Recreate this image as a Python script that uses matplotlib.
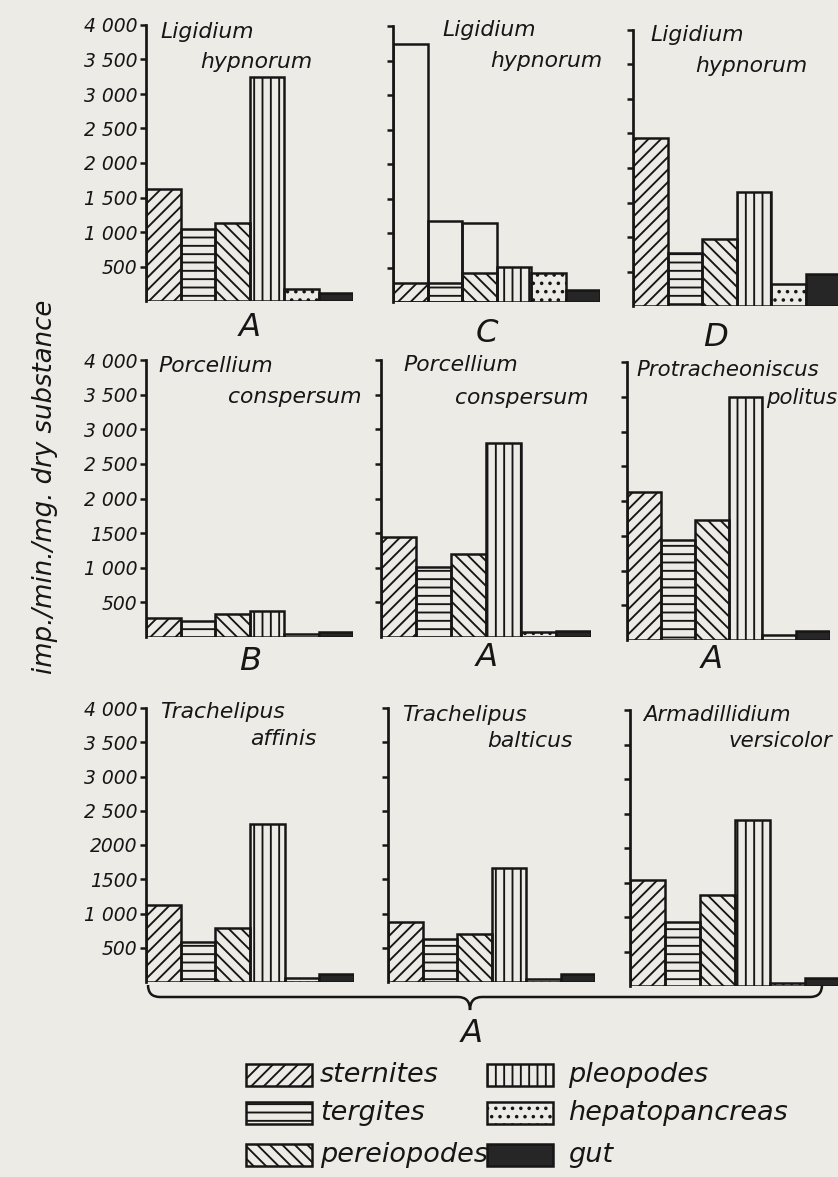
import matplotlib
matplotlib.use('Agg')
import matplotlib.pyplot as plt
from matplotlib.patches import Rectangle, PathPatch
from matplotlib.path import Path
import numpy as np

# ---------------- data ----------------
organs = ['sternites', 'tergites', 'pereiopodes', 'pleopodes', 'hepatopancreas', 'gut']

lig_A = [1620, 1045, 1130, 3240, 175, 120]
lig_C = [275, 270, 415, 505, 415, 180]
lig_C_open = [3740, 1170, 1140, 0, 0, 0]      # open (unhatched) outlines in panel C
lig_D = [2435, 765, 965, 1657, 315, 460]
por_B = [270, 225, 330, 370, 40, 70]
por_A = [1440, 1010, 1200, 2800, 70, 85]
pro_A = [2130, 1440, 1730, 3490, 70, 130]
tra_aff_A = [1130, 585, 785, 2300, 60, 120]
tra_bal_A = [870, 630, 700, 1670, 50, 110]
arm_A = [1530, 925, 1320, 2400, 50, 110]

yticks = [500, 1000, 1500, 2000, 2500, 3000, 3500, 4000]
ylabels_row1 = ['500', '1 000', '1 500', '2 000', '2 500', '3 000', '3 500', '4 000']
ylabels_row2 = ['500', '1 000', '1500', '2 000', '2 500', '3 000', '3 500', '4 000']
ylabels_row3 = ['500', '1 000', '1500', '2000', '2 500', '3 000', '3 500', '4 000']

titles = [('Ligidium', 'hypnorum'), ('Ligidium', 'hypnorum'), ('Ligidium', 'hypnorum'),
          ('Porcellium', 'conspersum'), ('Porcellium', 'conspersum'),
          ('Protracheoniscus', 'politus'),
          ('Trachelipus', 'affinis'), ('Trachelipus', 'balticus'),
          ('Armadillidium', 'versicolor')]
panel_letters = ['A', 'C', 'D', 'B', 'A', 'A']
ylabel_text = 'imp./min./mg. dry substance'

# ---------------- styles ----------------
BG = '#ecebe6'
INK = '#161616'
hatches = ['////', '---', '\\\\\\\\', '|||', '...', None]
faces = ['none', 'none', 'none', 'none', 'none', '#262626']

plt.rcParams['hatch.linewidth'] = 0.9
plt.rcParams['font.family'] = ['DejaVu Sans']

W, H = 838, 1177
DPI = 150
fig = plt.figure(figsize=(W / DPI, H / DPI), dpi=DPI, facecolor=BG)

ov = fig.add_axes([0, 0, 1, 1], zorder=0)
ov.set_xlim(0, W)
ov.set_ylim(H, 0)
ov.axis('off')

# panel geometry in pixels: (x_left, x_right, y_base, y_4000)
geom = [(146, 353, 301, 25), (393, 600, 302, 26), (633, 840, 306, 30),
        (146, 353, 637, 360), (381, 591, 637, 360), (627, 830, 640, 362),
        (146, 354, 982, 708), (388, 595, 982, 708), (630, 840, 986, 710)]
data = [lig_A, lig_C, lig_D, por_B, por_A, pro_A, tra_aff_A, tra_bal_A, arm_A]
row_labels = [ylabels_row1, ylabels_row2, ylabels_row3]

title_pos = [((160, 32), (200, 62)), ((442, 30), (490, 61)), ((650, 35), (695, 66)),
             ((158, 366), (228, 397)), ((403, 365), (455, 398)), ((636, 370), (766, 398)),
             ((160, 712), (250, 739)), ((402, 715), (487, 741)), ((643, 715), (728, 741))]
title_size = [10.5, 10.5, 10.5, 10.5, 10.5, 10.2, 10.5, 10.5, 10.2]

x = np.arange(len(organs))
for i, (vals, (xl, xr, yb, yt)) in enumerate(zip(data, geom)):
    ax = fig.add_axes([xl / W, 1 - yb / H, (xr - xl) / W, (yb - yt) / H], zorder=2)
    ax.set_facecolor('none')
    if i == 1:
        ov_vals = np.array(lig_C_open, dtype=float)
        m = ov_vals > 0
        ax.bar(x[m], ov_vals[m], width=1, align='edge', fill=False,
               edgecolor=INK, linewidth=1.2)
    for j in range(len(organs)):
        ax.bar(x[j], vals[j], width=1, align='edge', facecolor=faces[j],
               hatch=hatches[j], edgecolor=INK, linewidth=1.2)
    ax.set_xlim(0, 6)
    ax.set_ylim(0, 4000)
    for s in ['top', 'right', 'bottom']:
        ax.spines[s].set_visible(False)
    ax.spines['left'].set_linewidth(1.3)
    ax.spines['left'].set_color(INK)
    ax.set_xticks([])
    ax.set_yticks(yticks)
    ax.tick_params(axis='y', direction='out', length=3, width=1.2, color=INK, pad=1)
    if i % 3 == 0:
        ax.set_yticklabels(row_labels[i // 3], fontsize=9, style='italic', color=INK)
    else:
        ax.set_yticklabels([])
    (t1x, t1y), (t2x, t2y) = title_pos[i]
    ov.text(t1x, t1y, titles[i][0], fontsize=title_size[i], style='italic', color=INK,
            ha='left', va='center')
    ov.text(t2x, t2y, titles[i][1], fontsize=title_size[i], style='italic', color=INK,
            ha='left', va='center')

# panel letters
letter_pos = [(250, 328), (487, 334), (716, 338), (250, 662), (487, 658), (712, 660)]
for (lx, ly), s in zip(letter_pos, panel_letters):
    ov.text(lx, ly, s, fontsize=15.5, style='italic', color=INK, ha='center', va='center')

# brace under bottom row
verts = [(148, 985), (148, 997), (160, 997), (458, 997), (470, 997), (470, 1010),
         (470, 997), (482, 997), (810, 997), (822, 997), (822, 985)]
codes = [Path.MOVETO, Path.CURVE3, Path.CURVE3, Path.LINETO, Path.CURVE3, Path.CURVE3,
         Path.CURVE3, Path.CURVE3, Path.LINETO, Path.CURVE3, Path.CURVE3]
ov.add_patch(PathPatch(Path(verts, codes), fill=False, edgecolor=INK, linewidth=1.2))
ov.text(472, 1033, 'A', fontsize=15.5, style='italic', color=INK, ha='center', va='center')

# y label
ov.text(45, 487, ylabel_text, fontsize=12.5, style='italic', color=INK, rotation=90,
        ha='center', va='center')

# legend
leg_rows = [1075, 1113, 1155]
for j, name in enumerate(organs):
    col, row = divmod(j, 3)
    px = 246 if col == 0 else 487
    tx = 320 if col == 0 else 568
    cy = leg_rows[row]
    ov.add_patch(Rectangle((px, cy - 11), 66, 22, facecolor=faces[j], hatch=hatches[j],
                           edgecolor=INK, linewidth=1.2))
    ov.text(tx, cy, name, fontsize=13, style='italic', color=INK, ha='left', va='center')

fig.savefig('out.png', dpi=DPI, facecolor=BG)
